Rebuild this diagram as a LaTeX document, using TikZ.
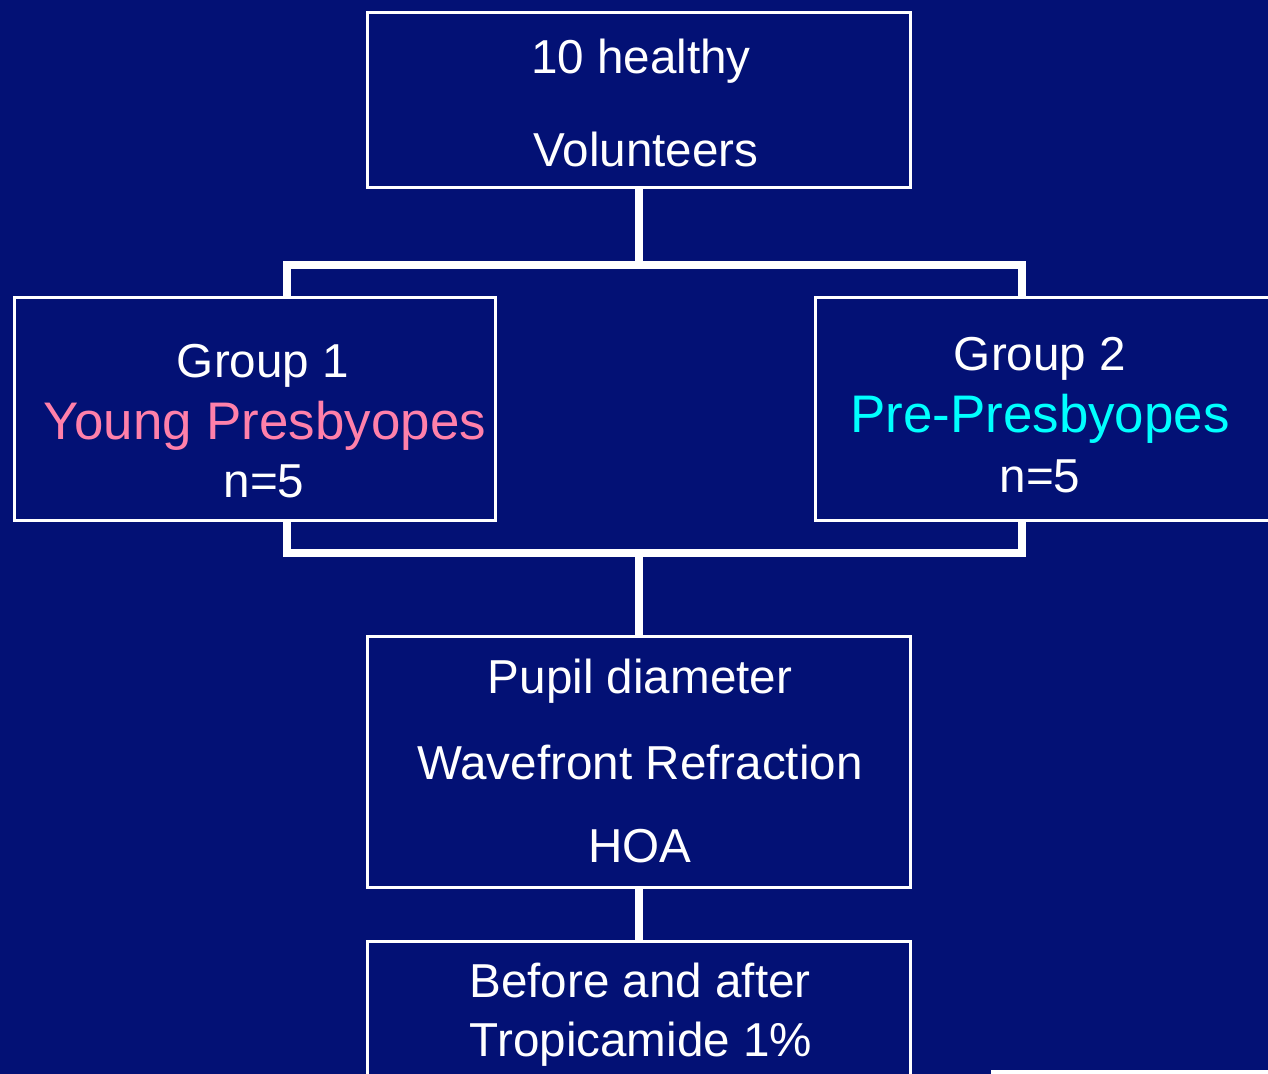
\documentclass[tikz,border=0pt]{standalone}
\usepackage{fontspec}
\setmainfont{Liberation Sans}
\usepackage{tikz}
\usetikzlibrary{positioning}
\usetikzlibrary{calc}
\definecolor{slidebg}{RGB}{3,17,117}
\definecolor{youngpink}{RGB}{255,128,170}
\definecolor{precyan}{RGB}{0,255,255}
\tikzset{
  boxline/.style={draw=white,line width=1.7pt,rectangle,inner sep=0pt},
  joinline/.style={draw=white,line width=4pt},
  boxtext/.style={text=white,font=\fontsize{27.1}{32}\selectfont,inner sep=0pt,anchor=base},
  grptext/.style={font=\fontsize{30.1}{36}\selectfont,inner sep=0pt,anchor=base}
}

\begin{document}
\begin{tikzpicture}[x=0.02cm,y=-0.02cm]
            \useasboundingbox (0,0) rectangle (1268,1074);
            \fill[slidebg] (0,0) rectangle (1268,1074);
            \clip (0,0) rectangle (1268,1074);
            % Volunteers box
            \node[boxline,minimum width=10.88cm,minimum height=3.52cm] at ( 639, 100) (nvol) {};
            \node at (nvol) [boxtext,xshift=0.04cm,yshift= 0.54cm] {10 healthy};
            \node at (nvol) [boxtext,xshift=0.14cm,yshift=-1.34cm] {Volunteers};
            % Group 1 box
            \node[boxline,minimum width=9.64cm,minimum height=4.48cm] at ( 255, 409) (ngrp1) {};
            \node at (ngrp1) [boxtext,xshift=0.16cm,yshift= 0.64cm] {Group 1};
            \node at (ngrp1) [grptext,text=youngpink,xshift=0.2cm,yshift=-0.62cm] {Young Presbyopes};
            \node at (ngrp1) [boxtext,xshift=0.18cm,yshift=-1.78cm] {n=5};
            % Group 2 box
            \node[boxline,minimum width=9.64cm,minimum height=4.48cm] at (1056, 409) (ngrp2) {};
            \node at (ngrp2) [boxtext,xshift=-0.32cm,yshift= 0.78cm] {Group 2};
            \node at (ngrp2) [grptext,text=precyan,xshift=-0.32cm,yshift=-0.48cm] {Pre-Presbyopes};
            \node at (ngrp2) [boxtext,xshift=-0.32cm,yshift=-1.68cm] {n=5};
            % Measurement box
            \node[boxline,minimum width=10.88cm,minimum height=5.04cm] at ( 639, 762) (nmeas) {};
            \node at (nmeas) [boxtext,xshift=0.02cm,yshift= 1.38cm] {Pupil diameter};
            \node at (nmeas) [boxtext,xshift=0.02cm,yshift=-0.36cm] {Wavefront Refraction};
            \node at (nmeas) [boxtext,xshift=0.02cm,yshift=-2.02cm] {HOA};
            % Drops box
            \node[boxline,minimum width=10.88cm,minimum height=3.00cm] at ( 639,1016) (ndrop) {};
            \node at (ndrop) [boxtext,xshift=0.02cm,yshift= 0.38cm] {Before and after};
            \node at (ndrop) [boxtext,xshift=0.04cm,yshift=-0.82cm] {Tropicamide 1\%};
            % split from volunteers to groups
            \coordinate (nsplitL) at ( 287, 265);
            \coordinate (nsplitR) at (1022, 265);
            \draw[joinline] (nvol.south) -- (nvol.south |- nsplitL);
            \draw[joinline] (ngrp1.north -| nsplitL) -- (nsplitL) -- (nsplitR) -- (ngrp2.north -| nsplitR);
            % merge from groups to measurements
            \coordinate (nmergeL) at ( 287, 553);
            \coordinate (nmergeR) at (1022, 553);
            \draw[joinline] (ngrp1.south -| nmergeL) -- (nmergeL) -- (nmergeR) -- (ngrp2.south -| nmergeR);
            \draw[joinline] (nmeas.north |- nmergeL) -- (nmeas.north);
            \draw[joinline] (nmeas.south) -- (ndrop.north);
            % edge of the next shape, bottom right
            \fill[white] (991,1070) rectangle (1268,1074);
\end{tikzpicture}
\end{document}
